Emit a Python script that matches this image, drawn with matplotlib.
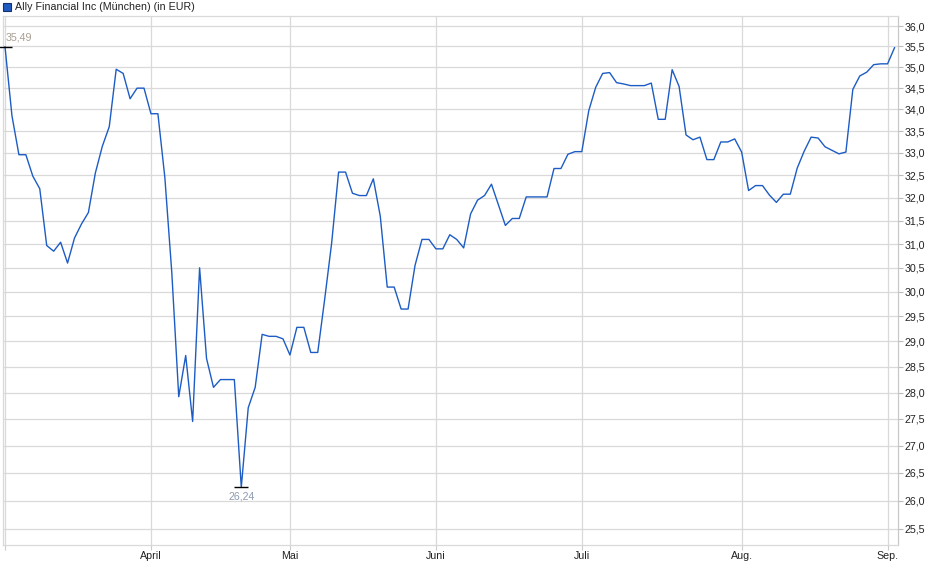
import numpy as np
import pandas as pd
import matplotlib
matplotlib.use('Agg')
import matplotlib.pyplot as plt
from matplotlib.ticker import FixedLocator, FuncFormatter, NullLocator

plt.rcParams['font.family'] = ['Liberation Sans', 'DejaVu Sans']

# trading days Munich, 03.03.2025 - 02.09.2025
start_day = '2025-03-03'
end_day = '2025-09-02'
holidays = ['2025-04-18', '2025-04-21', '2025-05-01']

# closing prices in EUR, one per trading day
prices = [
    35.49, 33.85, 32.96, 32.96, 32.48, 32.20, 30.97, 30.85, 31.04, 30.60,
    31.13, 31.43, 31.68, 32.55, 33.15, 33.60, 34.95, 34.85, 34.25, 34.50,
    34.50, 33.90, 33.90, 32.45, 30.40, 27.92, 28.72, 27.45, 30.50, 28.66,
    28.10, 28.25, 28.25, 28.25, 26.24, 27.71, 28.10, 29.14, 29.10, 29.10,
    29.05, 28.73, 29.28, 29.28, 28.78, 28.78, 29.85, 31.02, 32.57, 32.57,
    32.10, 32.05, 32.05, 32.42, 31.60, 30.10, 30.10, 29.65, 29.65, 30.55,
    31.10, 31.10, 30.90, 30.90, 31.20, 31.10, 30.92, 31.65, 31.95, 32.05,
    32.30, 31.85, 31.40, 31.55, 31.55, 32.02, 32.02, 32.02, 32.02, 32.65,
    32.65, 32.97, 33.03, 33.03, 33.97, 34.52, 34.85, 34.87, 34.63, 34.60,
    34.56, 34.56, 34.56, 34.62, 33.77, 33.77, 34.94, 34.54, 33.41, 33.30,
    33.36, 32.85, 32.85, 33.25, 33.25, 33.32, 33.02, 32.16, 32.27, 32.27,
    32.06, 31.90, 32.08, 32.08, 32.66, 33.04, 33.36, 33.34, 33.14, 33.06,
    32.98, 33.02, 34.47, 34.79, 34.88, 35.06, 35.08, 35.08, 35.47,
]

month_labels = ['', 'April', 'Mai', 'Juni', 'Juli', 'Aug.', 'Sep.']
price_ticks = [25.5, 26.0, 26.5, 27.0, 27.5, 28.0, 28.5, 29.0, 29.5, 30.0, 30.5,
               31.0, 31.5, 32.0, 32.5, 33.0, 33.5, 34.0, 34.5, 35.0, 35.5, 36.0]

title = 'Ally Financial Inc (München) (in EUR)'
line_color = '#1c5cc4'
grid_color = '#d9d9d9'
fsize = 7.7


def trading_days():
    """
    business days between start and end without the exchange holidays.
    :return days:
    """
    days = pd.bdate_range(start_day, end_day)
    days = days.drop(pd.to_datetime(holidays))
    return days


def comma(v, pos=None):
    return f'{v:.1f}'.replace('.', ',')


def main():
    days = trading_days()
    x = np.arange(len(days))
    y = np.array(prices)

    # first trading day of every month
    month_pos = [0] + [i for i in range(1, len(days)) if days[i].month != days[i - 1].month]

    fig = plt.figure(figsize=(9.4, 5.79), dpi=100)
    ax = fig.add_axes([3 / 940, 34 / 579, 895 / 940, 529 / 579])

    ax.plot(x, y, color=line_color, lw=1.0, zorder=3)

    ax.set_yscale('log')
    ax.set_ylim(25.22, 36.25)
    ax.set_xlim(-0.29, 128.5)

    ax.yaxis.set_major_locator(FixedLocator(price_ticks))
    ax.yaxis.set_minor_locator(NullLocator())
    ax.yaxis.set_major_formatter(FuncFormatter(comma))
    ax.yaxis.tick_right()
    ax.tick_params(axis='y', which='major', length=3.5, width=0.8, color='#bbbbbb',
                   labelsize=fsize, labelcolor='#222222', pad=1)

    ax.set_xticks(month_pos)
    ax.set_xticklabels(month_labels)
    ax.tick_params(axis='x', length=3.5, width=0.8, color='#cccccc',
                   labelsize=fsize, labelcolor='#222222', pad=0.5)

    ax.grid(True, color=grid_color, lw=0.9, zorder=0)
    for side in ['left', 'top', 'bottom']:
        ax.spines[side].set_color(grid_color)
        ax.spines[side].set_linewidth(0.9)
    ax.spines['right'].set_color('#c8c8c8')
    ax.spines['right'].set_linewidth(0.9)

    # high and low marker
    i_max = int(np.argmax(y))
    i_min = int(np.argmin(y))
    ax.plot(x[i_max], y[i_max], marker='_', ms=10, mew=1.0, color='black', zorder=4, clip_on=False)
    ax.plot(x[i_min], y[i_min], marker='_', ms=10, mew=1.0, color='black', zorder=4)
    ax.annotate(f'{y[i_max]:.2f}'.replace('.', ','),
                (x[i_max], y[i_max]), xytext=(0.5, 3), textcoords='offset points',
                ha='left', va='bottom', fontsize=fsize, color='#a69d92')
    ax.annotate(f'{y[i_min]:.2f}'.replace('.', ','),
                (x[i_min], y[i_min]), xytext=(0, -3), textcoords='offset points',
                ha='center', va='top', fontsize=fsize, color='#8d9bb0')

    # legend box at top left
    fig.patches.append(plt.Rectangle((3 / 940, 1 - 11 / 579), 8 / 940, 8 / 579,
                                     transform=fig.transFigure, facecolor='#1f5bc0',
                                     edgecolor='#15326e', lw=0.8))
    fig.text(15 / 940, 1 - 6.5 / 579, title, ha='left', va='center', fontsize=fsize, color='#222222')

    fig.savefig('out.png', dpi=100)


if __name__ == '__main__':
    main()
